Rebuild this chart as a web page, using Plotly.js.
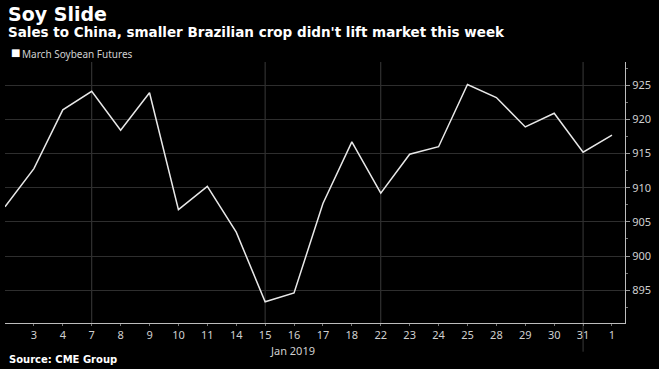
<!DOCTYPE html>
<html><head><meta charset="utf-8">
<script src="https://cdn.plot.ly/plotly-3.0.1.min.js"></script>
<style>html,body{margin:0;padding:0;background:#000;}#c{width:659px;height:369px;}</style>
</head><body><div id="c"></div>
<script>
const days = ["2","3","4","7","8","9","10","11","14","15","16","17","18","22","23","24","25","28","29","30","31","1"];
const prices = [907.2,912.8,921.4,924.1,918.4,923.9,906.8,910.2,903.5,893.3,894.6,907.7,916.7,909.2,914.9,916.0,925.1,923.2,918.9,920.9,915.2,917.7];
const gridDays = ["7","15","22","31"];
const yTicks = [895,900,905,910,915,920,925];

const idx = days.map((d,i)=>i);
const shapes = gridDays.map(d=>{
  const i = days.indexOf(d);
  return {type:'line', xref:'x', yref:'paper', x0:i, x1:i, y0:(d==="31"?-0.11:0), y1:1,
    line:{color:'#3a3a3a', width:1}, layer:'below'};
});

const trace = {x: idx, y: prices, type:'scatter', mode:'lines',
  line:{color:'#e8e8e8', width:1.5}, hoverinfo:'skip', showlegend:false};

const layout = {
  width:659, height:369,
  paper_bgcolor:'#000', plot_bgcolor:'#000',
  margin:{l:5, r:34, t:62, b:46},
  font:{family:'"Noto Sans", sans-serif', color:'#d0d0d0', size:11},
  xaxis:{range:[0,21.45], tickvals: idx.slice(1), ticktext: days.slice(1),
    showgrid:false, zeroline:false, showline:true, linecolor:'#bdbdbd', linewidth:1,
    ticks:'outside', ticklen:2, tickcolor:'#777', tickfont:{size:11, color:'#d0d0d0'}, fixedrange:true},
  yaxis:{side:'right', range:[890.2,928.4], tickvals:yTicks, showgrid:true, gridcolor:'#2e2e2e', gridwidth:1,
    zeroline:false, showline:true, linecolor:'#bdbdbd', linewidth:1,
    ticks:'outside', ticklen:4, tickcolor:'#999', tickfont:{size:11, color:'#d0d0d0'},
    minor:{dtick:2.5, ticks:'outside', ticklen:2, tickcolor:'#777', showgrid:false}},
  shapes: shapes,
  annotations:[
    {text:'<b>Soy Slide</b>', xref:'paper', yref:'paper', x:0, y:1, xshift:1, yshift:61,
     xanchor:'left', yanchor:'top', showarrow:false, font:{family:'"DejaVu Sans", sans-serif', size:19, color:'#ffffff'}},
    {text:"<b>Sales to China, smaller Brazilian crop didn't lift market this week</b>", xref:'paper', yref:'paper', x:0, y:1, xshift:1, yshift:40,
     xanchor:'left', yanchor:'top', showarrow:false, font:{family:'"DejaVu Sans", sans-serif', size:13.5, color:'#ffffff'}},
    {text:'■', xref:'paper', yref:'paper', x:0, y:1, xshift:4, yshift:17,
     xanchor:'left', yanchor:'top', showarrow:false, font:{family:'"DejaVu Sans", sans-serif', size:10, color:'#ffffff'}},
    {text:'March Soybean Futures', xref:'paper', yref:'paper', x:0, y:1, xshift:15, yshift:17,
     xanchor:'left', yanchor:'top', showarrow:false, font:{family:'"Noto Sans", sans-serif', size:10, color:'#d0d0d0'}},
    {text:'Jan 2019', xref:'x', yref:'paper', x:9.95, y:0, yshift:-18,
     xanchor:'center', yanchor:'top', showarrow:false, font:{family:'"Noto Sans", sans-serif', size:11, color:'#d0d0d0'}},
    {text:'<b>Source: CME Group</b>', xref:'paper', yref:'paper', x:0, y:0, xshift:2, yshift:-29,
     xanchor:'left', yanchor:'top', showarrow:false, font:{family:'"DejaVu Sans", sans-serif', size:10, color:'#ffffff'}}
  ]
};
Plotly.newPlot('c', [trace], layout, {displayModeBar:false, staticPlot:true});
</script></body></html>
